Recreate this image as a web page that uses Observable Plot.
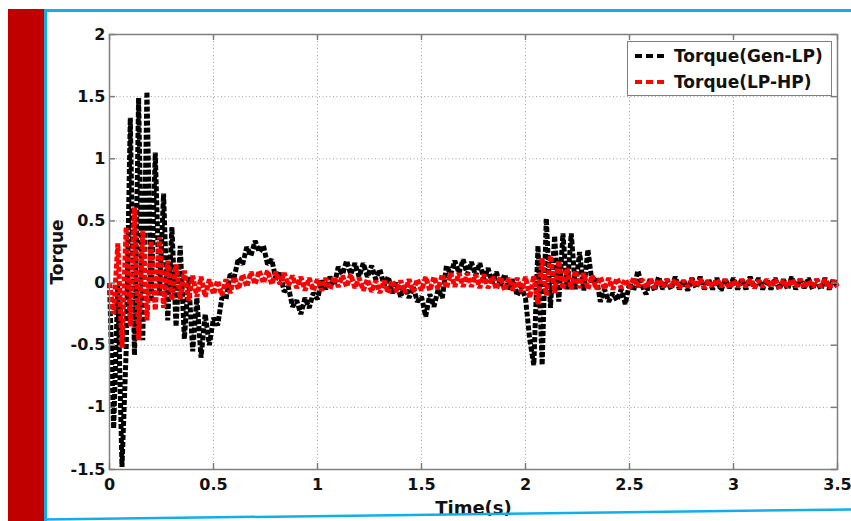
<!DOCTYPE html>
<html><head><meta charset="utf-8">
<script src="https://cdn.jsdelivr.net/npm/d3@7"></script>
<script src="https://cdn.jsdelivr.net/npm/@observablehq/plot@0.6"></script>
<style>
html,body{margin:0;padding:0;background:#fff;}
#wrap{position:relative;width:851px;height:521px;overflow:hidden;font-family:"DejaVu Sans",sans-serif;}
#chart{position:absolute;left:0;top:0;}
.redbar{position:absolute;left:8px;top:9px;width:36px;height:512px;background:#C00000;}
#border{position:absolute;left:0;top:0;pointer-events:none;}
#legend{position:absolute;left:627px;top:41px;width:203px;height:53px;border:1.5px solid #808080;background:#fff;}
#legend .row{position:absolute;left:7px;height:20px;display:flex;align-items:center;font-weight:bold;font-size:17px;color:#111;}
#legend svg{margin-right:6px;}
</style>
</head><body>
<div id="wrap">
  <div id="chart"></div>
  <div class="redbar"></div>
  <svg id="border" width="851" height="521">
    <line x1="45.5" y1="9" x2="45.5" y2="521" stroke="#12AEEC" stroke-width="3"/>
    <line x1="44" y1="10.5" x2="851" y2="10.5" stroke="#12AEEC" stroke-width="3"/>
    <line x1="44" y1="519.5" x2="851" y2="509.5" stroke="#12AEEC" stroke-width="2.5"/>
  </svg>
  <div id="legend"></div>
</div>
<script>
// Sampling step of the simulated signals (s)
const dt = 0.02;
const seriesNames = ["Torque(Gen-LP)", "Torque(LP-HP)"];
const seriesColors = ["#000000", "#FF0000"];
const xTicks = [0, 0.5, 1, 1.5, 2, 2.5, 3, 3.5];
const yTicks = [-1.5, -1, -0.5, 0, 0.5, 1, 1.5, 2];
const xTickLabels = ["0", "0.5", "1", "1.5", "2", "2.5", "3", "3.5"];
const yTickLabels = ["-1.5", "-1", "-0.5", "0", "0.5", "1", "1.5", "2"];

// Torque(Gen-LP), one value every 0.02 s from 0 to 3.5 s
const torqueGenLP = [
  0.0, -1.17, -0.02, -1.48, -0.55, 1.33, -0.58, 1.49, -0.46, 1.54,
  -0.15, 1.05, -0.1, 0.72, -0.3, 0.45, -0.35, 0.3, -0.45, 0.05,
  -0.55, -0.12, -0.6, -0.25, -0.5, -0.28, -0.34, -0.12, -0.13, 0.07,
  0.05, 0.2, 0.15, 0.29, 0.22, 0.34, 0.25, 0.3, 0.15, 0.19,
  0.03, 0.08, -0.07, -0.03, -0.19, -0.14, -0.25, -0.12, -0.2, -0.08,
  -0.13, 0.02, -0.05, 0.05, -0.02, 0.13, 0.07, 0.18, 0.07, 0.16,
  0.05, 0.16, 0.05, 0.14, 0.03, 0.11, -0.02, 0.05, -0.08, 0.0,
  -0.11, -0.02, -0.12, -0.03, -0.15, -0.11, -0.27, -0.09, -0.19, -0.05,
  -0.12, 0.14, 0.07, 0.18, 0.08, 0.19, 0.07, 0.17, 0.06, 0.16,
  0.03, 0.12, 0.0, 0.09, -0.02, 0.07, -0.05, 0.03, -0.1, -0.03,
  -0.12, -0.45, -0.66, 0.3, -0.66, 0.52, -0.2, 0.38, -0.15, 0.4,
  -0.05, 0.4, -0.05, 0.25, -0.06, 0.27, 0.0, 0.05, -0.15, -0.05,
  -0.15, -0.08, -0.14, -0.05, -0.17, 0.0, -0.06, 0.1, -0.02, -0.09,
  0.04, -0.06, 0.05, -0.05, 0.03, -0.05, 0.05, -0.05, 0.02, -0.06,
  0.04, -0.04, 0.05, -0.05, 0.03, -0.05, 0.04, -0.06, 0.03, -0.04,
  0.04, -0.05, 0.03, -0.05, 0.05, -0.04, 0.04, -0.05, 0.03, -0.05,
  0.04, -0.05, 0.03, -0.05, 0.05, -0.05, 0.03, -0.04, 0.04, -0.05,
  0.03, -0.05, 0.04, -0.05, 0.03, -0.03
];

// Torque(LP-HP), one value every 0.02 s from 0 to 3.5 s
const torqueLPHP = [
  0.0, -0.25, 0.32, -0.52, 0.45, -0.35, 0.61, -0.46, 0.42, -0.3,
  0.34, -0.22, 0.37, -0.2, 0.18, -0.14, 0.15, -0.13, 0.1, -0.14,
  0.06, -0.11, 0.05, -0.11, 0.03, -0.09, 0.02, -0.1, 0.03, -0.08,
  0.05, -0.05, 0.07, -0.03, 0.09, -0.01, 0.1, 0.0, 0.1, -0.01,
  0.09, -0.01, 0.08, -0.02, 0.06, -0.04, 0.05, -0.06, 0.04, -0.06,
  0.03, -0.06, 0.04, -0.05, 0.05, -0.03, 0.06, -0.03, 0.07, -0.04,
  0.04, -0.06, 0.03, -0.07, 0.02, -0.08, 0.02, -0.08, 0.02, -0.07,
  0.02, -0.08, 0.03, -0.07, 0.03, -0.06, 0.05, -0.06, 0.05, -0.05,
  0.07, -0.04, 0.08, -0.03, 0.08, -0.03, 0.08, -0.03, 0.07, -0.04,
  0.07, -0.04, 0.05, -0.05, 0.05, -0.06, 0.04, -0.06, 0.04, -0.07,
  0.05, -0.12, 0.06, -0.17, 0.2, -0.1, 0.22, -0.08, 0.18, -0.05,
  0.12, -0.05, 0.1, -0.04, 0.08, -0.05, 0.06, -0.05, 0.05, -0.05,
  0.04, -0.05, 0.04, -0.04, 0.03, -0.04, 0.04, -0.03, 0.03, -0.04,
  0.03, -0.04, 0.03, -0.03, 0.03, -0.03, 0.03, -0.04, 0.02, -0.03,
  0.03, -0.03, 0.03, -0.04, 0.02, -0.03, 0.03, -0.03, 0.03, -0.04,
  0.02, -0.03, 0.03, -0.03, 0.03, -0.04, 0.02, -0.03, 0.03, -0.03,
  0.03, -0.04, 0.02, -0.03, 0.03, -0.03, 0.03, -0.04, 0.02, -0.03,
  0.03, -0.03, 0.03, -0.04, 0.02, -0.03
];

const rows = (vals, name) => vals.map((v, i) => ({t: Math.round(i * dt * 100) / 100, v, name}));
const genRows = rows(torqueGenLP, seriesNames[0]);
const hpRows = rows(torqueLPHP, seriesNames[1]);

const fmtX = d => xTickLabels[xTicks.indexOf(d)];
const fmtY = d => yTickLabels[yTicks.indexOf(d)];
const frameGray = "#7f7f7f";

const chart = Plot.plot({
  width: 851, height: 521,
  marginLeft: 109, marginRight: 14, marginTop: 34, marginBottom: 52,
  style: {fontFamily: "DejaVu Sans, sans-serif", fontSize: "16px", fontWeight: "bold", color: "#111", background: "none", overflow: "visible"},
  x: {domain: [0, 3.5], label: null},
  y: {domain: [-1.5, 2], label: null},
  marks: [
    Plot.gridX(xTicks, {stroke: "#a0a0a0", strokeOpacity: 1, strokeDasharray: "1,2.5"}),
    Plot.gridY(yTicks, {stroke: "#a0a0a0", strokeOpacity: 1, strokeDasharray: "1,2.5"}),
    Plot.axisX(xTicks, {tickSize: 0, tickPadding: 9, tickFormat: fmtX, label: null}),
    Plot.axisY(yTicks, {tickSize: 0, tickPadding: 4, tickFormat: fmtY, label: null}),
    Plot.line(genRows, {x: "t", y: "v", stroke: seriesColors[0], strokeWidth: 5, strokeDasharray: "5,2", strokeLinejoin: "miter", strokeLinecap: "butt"}),
    Plot.line(hpRows, {x: "t", y: "v", stroke: seriesColors[1], strokeWidth: 5, strokeDasharray: "5,2", strokeLinejoin: "miter", strokeLinecap: "butt"}),
    Plot.tickX(xTicks, {x: d => d, stroke: frameGray, strokeWidth: 1.5, insetTop: 429}),
    Plot.tickX(xTicks, {x: d => d, stroke: frameGray, strokeWidth: 1.5, insetBottom: 429}),
    Plot.tickY(yTicks, {y: d => d, stroke: frameGray, strokeWidth: 1.5, insetRight: 722}),
    Plot.tickY(yTicks, {y: d => d, stroke: frameGray, strokeWidth: 1.5, insetLeft: 722}),
    Plot.frame({stroke: frameGray, strokeWidth: 1.5}),
    Plot.text(["Time(s)"], {text: d => d, frameAnchor: "bottom", lineAnchor: "middle", textAnchor: "middle", dy: 39, fontSize: 18, fontWeight: "bold"}),
    Plot.text(["Torque"], {text: d => d, frameAnchor: "left", textAnchor: "middle", lineAnchor: "middle", dx: -52, rotate: -90, fontSize: 17, fontWeight: "bold"})
  ]
});
document.getElementById("chart").appendChild(chart);

// Legend
const legend = document.getElementById("legend");
const rowTops = [4, 30];
seriesNames.forEach((name, i) => {
  const row = document.createElement("div");
  row.className = "row";
  row.style.top = rowTops[i] + "px";
  row.innerHTML = `<svg width="33" height="8"><line x1="0" y1="4" x2="33" y2="4" stroke="${seriesColors[i]}" stroke-width="4" stroke-dasharray="7,4"/></svg><span>${name}</span>`;
  legend.appendChild(row);
});
</script>
</body></html>
